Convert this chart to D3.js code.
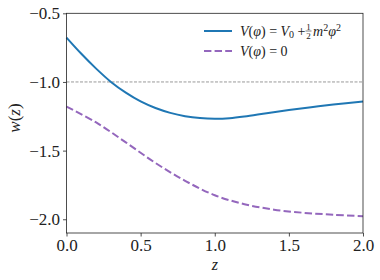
<!DOCTYPE html>
<html>
<head>
<meta charset="utf-8">
<script src="https://cdn.jsdelivr.net/npm/d3@7"></script>
<style>
  body { margin: 0; background: #fff; }
</style>
</head>
<body>
<div id="chart"></div>
<script>
(function () {
  "use strict";

  // values
  const zBlue = [0, 0.1, 0.2, 0.3, 0.4, 0.5, 0.6, 0.7, 0.8, 0.9, 1.0, 1.1, 1.2, 1.35, 1.5, 1.65, 1.8, 2.0];
  const wBlue = [-0.677, -0.795, -0.903, -1.0, -1.078, -1.142, -1.19, -1.225, -1.249, -1.263, -1.268, -1.264, -1.252, -1.228, -1.205, -1.184, -1.165, -1.142];
  const zPurple = [0, 0.2, 0.4, 0.6, 0.8, 1.0, 1.2, 1.4, 1.6, 1.8, 2.0];
  const wPurple = [-1.179, -1.295, -1.44, -1.59, -1.72, -1.825, -1.89, -1.93, -1.953, -1.967, -1.978];
  const xTicks = [0, 0.5, 1.0, 1.5, 2.0];
  const yTicks = [-0.5, -1.0, -1.5, -2.0];
  const refLine = -1.0;

  const serif = "'Liberation Serif', 'Times New Roman', 'DejaVu Serif', 'Noto Serif', serif";
  const width = 380;
  const height = 280;
  const margin = { top: 13.3, right: 17, bottom: 47, left: 66.5 };

  const svg = d3.select("#chart").append("svg")
    .attr("width", width).attr("height", height)
    .attr("font-family", serif);

  const x = d3.scaleLinear().domain([0, 2]).range([margin.left, width - margin.right]);
  const y = d3.scaleLinear().domain([-2.1, -0.5]).range([height - margin.bottom, margin.top]);

  function fmt(d) { return d3.format(".1f")(d).replace("-", "\u2212"); }

  function styleAxis(g) {
    g.attr("font-family", serif);
    g.select(".domain").remove();
    g.selectAll("text").attr("font-size", 17).attr("fill", "#222").attr("font-family", serif);
    g.selectAll("line").attr("stroke", "#222").attr("stroke-width", 0.8);
  }

  svg.append("g")
    .attr("transform", "translate(0," + (height - margin.bottom) + ")")
    .call(d3.axisBottom(x).tickValues(xTicks).tickFormat(fmt).tickSizeOuter(0).tickSize(3.5).tickPadding(2.5))
    .call(styleAxis);

  svg.append("g")
    .attr("transform", "translate(" + margin.left + ",0)")
    .call(d3.axisLeft(y).tickValues(yTicks).tickFormat(fmt).tickSizeOuter(0).tickSize(3.5).tickPadding(3))
    .call(styleAxis);

  svg.append("line")
    .attr("x1", x(0)).attr("x2", x(2))
    .attr("y1", y(refLine)).attr("y2", y(refLine))
    .attr("stroke", "#808080").attr("stroke-width", 0.8)
    .attr("stroke-dasharray", "3,1.5");

  const line = d3.line()
    .x(function (d) { return x(d[0]); })
    .y(function (d) { return y(d[1]); })
    .curve(d3.curveCatmullRom);

  svg.append("path")
    .datum(zBlue.map(function (z, i) { return [z, wBlue[i]]; }))
    .attr("d", line)
    .attr("fill", "none").attr("stroke", "#1f77b4").attr("stroke-width", 2);

  svg.append("path")
    .datum(zPurple.map(function (z, i) { return [z, wPurple[i]]; }))
    .attr("d", line)
    .attr("fill", "none").attr("stroke", "#9467bd").attr("stroke-width", 2)
    .attr("stroke-dasharray", "7.4,3.2");

  // frame
  svg.append("rect")
    .attr("x", margin.left).attr("y", margin.top)
    .attr("width", width - margin.left - margin.right)
    .attr("height", height - margin.top - margin.bottom)
    .attr("fill", "none").attr("stroke", "#222").attr("stroke-width", 0.8);

  // axis labels
  svg.append("text")
    .attr("x", (margin.left + width - margin.right) / 2).attr("y", 270)
    .attr("text-anchor", "middle").attr("font-size", 16).attr("font-style", "italic")
    .attr("fill", "#222")
    .text("z");

  const yl = svg.append("text")
    .attr("transform", "translate(20,118) rotate(-90)")
    .attr("text-anchor", "middle").attr("font-size", 17).attr("fill", "#222");
  yl.append("tspan").attr("font-style", "italic").text("w");
  yl.append("tspan").text("(");
  yl.append("tspan").attr("font-style", "italic").text("z");
  yl.append("tspan").text(")");

  // legend
  const lg = svg.append("g").attr("fill", "#222");
  lg.append("line").attr("x1", 204).attr("x2", 232).attr("y1", 31).attr("y2", 31)
    .attr("stroke", "#1f77b4").attr("stroke-width", 2);
  lg.append("line").attr("x1", 204).attr("x2", 232).attr("y1", 51).attr("y2", 51)
    .attr("stroke", "#9467bd").attr("stroke-width", 2).attr("stroke-dasharray", "7.4,3.2");

  const fs = 14;
  const sub = 10;
  const t1 = lg.append("text").attr("x", 240).attr("y", 35.5).attr("font-size", fs);
  t1.append("tspan").attr("font-style", "italic").text("V");
  t1.append("tspan").text("(");
  t1.append("tspan").attr("font-style", "italic").text("\u03c6");
  t1.append("tspan").text(") = ");
  t1.append("tspan").attr("font-style", "italic").text("V");
  t1.append("tspan").attr("font-size", sub).attr("dy", 2.5).text("0");
  t1.append("tspan").attr("dy", -2.5).text(" + ");
  const w1 = t1.node().getComputedTextLength();

  const fx = 240 + w1 + 3;
  lg.append("text").attr("x", fx).attr("y", 29.5).attr("font-size", 9).attr("text-anchor", "middle").text("1");
  lg.append("text").attr("x", fx).attr("y", 38.5).attr("font-size", 9).attr("text-anchor", "middle").text("2");
  lg.append("line").attr("x1", fx - 3).attr("x2", fx + 3).attr("y1", 31).attr("y2", 31)
    .attr("stroke", "#222").attr("stroke-width", 0.6);

  const t2 = lg.append("text").attr("x", fx + 4.5).attr("y", 35.5).attr("font-size", fs);
  t2.append("tspan").attr("font-style", "italic").text("m");
  t2.append("tspan").attr("font-size", sub).attr("dy", -5).text("2");
  t2.append("tspan").attr("dy", 5).attr("font-style", "italic").text("\u03c6");
  t2.append("tspan").attr("font-size", sub).attr("dy", -5).text("2");

  const t3 = lg.append("text").attr("x", 240).attr("y", 55.5).attr("font-size", fs);
  t3.append("tspan").attr("font-style", "italic").text("V");
  t3.append("tspan").text("(");
  t3.append("tspan").attr("font-style", "italic").text("\u03c6");
  t3.append("tspan").text(") = 0");
})();
</script>
</body>
</html>
